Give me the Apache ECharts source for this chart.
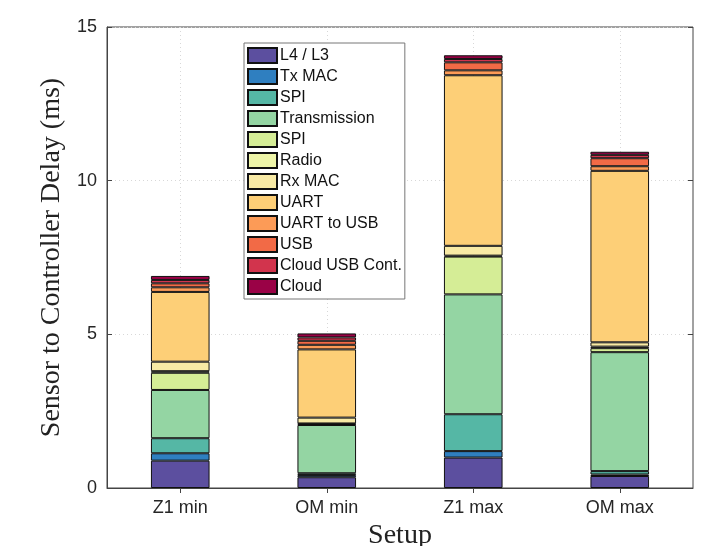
<!DOCTYPE html>
<html>
<head>
<meta charset="utf-8">
<script src="https://cdn.jsdelivr.net/npm/echarts@6/dist/echarts.min.js"></script>
<style>
html,body{margin:0;padding:0;background:#fff;}
#chart{width:707px;height:546px;}
</style>
</head>
<body>
<div id="chart"></div>
<script>
var categories = ['Z1 min', 'OM min', 'Z1 max', 'OM max'];
var seriesNames = ['L4 / L3', 'Tx MAC', 'SPI', 'Transmission', 'SPI ', 'Radio', 'Rx MAC', 'UART', 'UART to USB', 'USB', 'Cloud USB Cont.', 'Cloud'];
var colors = ['#5c4f9f', '#2f7fc0', '#55b7a5', '#94d5a3', '#d5ed96', '#eef5a8', '#f8eaa5', '#fdcf77', '#fc9b57', '#f26a46', '#d2344d', '#9a0246'];
var l4l3 = [0.89, 0.35, 0.99, 0.39];
var txMac = [0.24, 0.07, 0.21, 0.05];
var spi1 = [0.49, 0.06, 1.20, 0.11];
var transmission = [1.57, 1.57, 3.90, 3.87];
var spi2 = [0.56, 0.03, 1.23, 0.13];
var radio = [0.05, 0.02, 0.03, 0.05];
var rxMac = [0.31, 0.19, 0.32, 0.14];
var uart = [2.27, 2.22, 5.55, 5.58];
var uartToUsb = [0.15, 0.15, 0.16, 0.15];
var usb = [0.13, 0.13, 0.26, 0.26];
var cloudUsbCont = [0.11, 0.11, 0.11, 0.11];
var cloud = [0.13, 0.13, 0.12, 0.10];
var yTicks = [0, 5, 10, 15];

var allData = [l4l3, txMac, spi1, transmission, spi2, radio, rxMac, uart, uartToUsb, usb, cloudUsbCont, cloud];

var series = allData.map(function (d, i) {
  return {
    name: seriesNames[i],
    type: 'bar',
    stack: 'total',
    barWidth: '40%',
    data: d,
    itemStyle: { color: colors[i], borderColor: '#111', borderWidth: 1 },
    emphasis: { disabled: true }
  };
});

var chart = echarts.init(document.getElementById('chart'), null, { renderer: 'canvas' });
chart.setOption({
  animation: false,
  backgroundColor: '#fff',
  grid: { left: 107, right: 14, top: 27, bottom: 58, outerBoundsMode: 'none', containLabel: false, show: true, borderColor: '#444', borderWidth: 1, backgroundColor: 'transparent' },
  legend: {
    orient: 'vertical',
    left: 244,
    top: 43,
    itemWidth: 29,
    itemHeight: 15,
    itemGap: 4,
    padding: [4, 3, 4, 3],
    backgroundColor: '#fff',
    borderColor: '#777',
    borderWidth: 1,
    borderRadius: 0,
    icon: 'rect',
    textStyle: { fontFamily: 'Liberation Sans', fontSize: 16, color: '#111', padding: [0, 0, 0, -2] },
    data: seriesNames
  },
  xAxis: [{
    type: 'category',
    data: categories,
    position: 'bottom',
    name: 'Setup',
    nameLocation: 'middle',
    nameGap: 27,
    nameTextStyle: { fontFamily: 'Liberation Serif', fontSize: 28, color: '#222' },
    axisLine: { show: true, lineStyle: { color: '#444', width: 1 } },
    axisTick: { show: true, inside: true, length: 5, alignWithLabel: true, lineStyle: { color: '#444' } },
    axisLabel: { fontFamily: 'Liberation Sans', fontSize: 18, color: '#262626', margin: 11 },
    splitLine: { show: true, alignWithLabel: true, lineStyle: { color: '#d8d8d8', type: [1, 3], width: 1 } }
  }, {
    type: 'category',
    data: categories,
    position: 'top',
    axisLine: { show: false },
    axisTick: { show: true, inside: true, length: 5, alignWithLabel: true, lineStyle: { color: '#444' } },
    axisLabel: { show: false },
    splitLine: { show: false }
  }],
  yAxis: [{
    type: 'value',
    min: 0,
    max: 15,
    interval: 5,
    name: 'Sensor to Controller Delay (ms)',
    nameLocation: 'middle',
    nameGap: 36,
    nameTextStyle: { fontFamily: 'Liberation Serif', fontSize: 28, color: '#222' },
    axisLine: { show: true, lineStyle: { color: '#444', width: 1 } },
    axisTick: { show: true, inside: true, length: 5, lineStyle: { color: '#444' } },
    axisLabel: {
      fontFamily: 'Liberation Sans', fontSize: 18, color: '#262626', margin: 10,
      formatter: function (v) { return yTicks.indexOf(v) >= 0 ? String(v) : ''; }
    },
    splitLine: { show: true, lineStyle: { color: '#d8d8d8', type: [1, 3], width: 1 } }
  }, {
    type: 'value',
    min: 0,
    max: 15,
    interval: 5,
    position: 'right',
    axisLine: { show: false },
    axisTick: { show: true, inside: true, length: 5, lineStyle: { color: '#444' } },
    axisLabel: { show: false },
    splitLine: { show: false }
  }],
  series: series
});
</script>
</body>
</html>
